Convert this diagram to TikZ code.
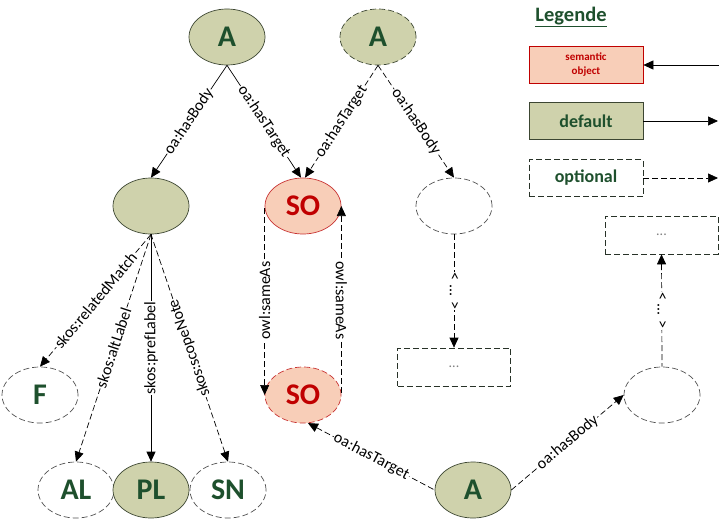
\documentclass[tikz,border=0pt]{standalone}
\usepackage{fontspec}
\setmainfont{Carlito}
\usetikzlibrary{arrows.meta,shapes.geometric}
\definecolor{gfill}{RGB}{207,210,172}
\definecolor{gtext}{RGB}{30,80,45}
\definecolor{gline}{RGB}{60,70,50}
\definecolor{sofill}{RGB}{248,206,184}
\definecolor{soline}{RGB}{200,50,50}
\definecolor{sotext}{RGB}{192,0,0}
\definecolor{optline}{RGB}{80,80,80}
\definecolor{boxline}{RGB}{40,50,40}
\begin{document}
\begin{tikzpicture}[x=1pt,y=-1pt,
 ell/.style={ellipse, minimum width=76pt, minimum height=56pt, inner sep=0pt, line width=0.7pt,
   font=\fontsize{30}{30}\selectfont\bfseries, text=gtext},
 deff/.style={ell, draw=gline, fill=gfill},
 opt/.style={ell, draw=optline, dash pattern=on 6pt off 3pt},
 so/.style={ell, draw=soline, fill=sofill, text=sotext},
 sodash/.style={so, dash pattern=on 6pt off 3pt},
 boxopt/.style={rectangle, draw=boxline, dash pattern=on 6pt off 3pt, minimum width=113pt, minimum height=38pt, inner sep=0pt, line width=0.7pt},
 arr/.style={-{Triangle[length=10pt,width=9pt]}, black, line width=0.7pt},
 rarr/.style={{Triangle[length=10pt,width=9pt]}-, black, line width=0.7pt},
 dsh/.style={dash pattern=on 6pt off 3pt},
 lbl/.style={fill=white, inner sep=1pt, font=\fontsize{16}{16}\selectfont, sloped},
 lgbox/.style={rectangle, minimum width=114pt, minimum height=37pt, inner sep=0pt, line width=0.7pt}
]
\useasboundingbox (0,0) rectangle (719,519);

% nodes
\node[deff] (A1) at (227,37) {A};
\node[deff, dash pattern=on 6pt off 3pt] (A2) at (378,37) {A};
\node[deff] (B) at (151,206) {};
\node[so] (SO1) at (303,206) {SO};
\node[opt] (E1) at (454,206) {};
\node[boxopt] (D1) at (454,367) {\fontsize{14}{14}\selectfont\color{gray}...};
\node[boxopt] (D2) at (661.5,235) {\fontsize{14}{14}\selectfont\color{gray}...};
\node[opt] (F) at (40,395) {F};
\node[sodash] (SO2) at (303,395) {SO};
\node[opt] (E2) at (662,395) {};
\node[opt] (AL) at (76,490) {AL};
\node[deff] (PL) at (151,490) {PL};
\node[opt] (SN) at (228,490) {SN};
\node[deff] (A3) at (473,490) {A};

% legend
\node[font=\fontsize{20.5}{20.5}\selectfont\bfseries, text=gtext] (leg) at (571,17) {\underline{Legende}};
\node[lgbox, draw=sotext, fill=sofill, text=sotext, align=center,
  font=\fontsize{11}{14}\selectfont\bfseries] (L1) at (586,65) {semantic\\object};
\node[lgbox, draw=gline, fill=gfill, text=gtext, font=\fontsize{18}{18}\selectfont\bfseries] (L2) at (586,121) {default};
\node[lgbox, draw=boxline, dash pattern=on 6pt off 3pt, text=gtext, font=\fontsize{18}{18}\selectfont\bfseries] (L3) at (586,178) {optional};
\coordinate (L1r) at (719,65);
\coordinate (L2r) at (718,121);
\coordinate (L3r) at (718,178);
\draw[arr] (L1r) -- (L1);
\draw[arr] (L2) -- (L2r);
\draw[arr, dsh] (L3) -- (L3r);

% edges
\draw[arr] (A1.south) -- node[lbl]{oa:hasBody} (B.north);
\draw[arr] (A1.south) -- node[lbl]{oa:hasTarget} ([xshift=-2pt]SO1.north);
\draw[arr, dsh] (A2.south) -- node[lbl]{oa:hasTarget} ([xshift=2pt]SO1.north);
\draw[arr, dsh] (A2.south) -- node[lbl]{oa:hasBody} (E1.north);

\draw[arr, dsh] (B.south) -- node[lbl]{skos:relatedMatch} (F.north);
\draw[arr, dsh] (B.south) -- node[lbl]{skos:altLabel} (AL.north);
\draw[rarr] (PL.north) -- node[lbl, allow upside down]{skos:prefLabel} (B.south);
\draw[rarr, dsh] (SN.north) -- node[lbl, allow upside down]{skos:scopeNote} (B.south);

\draw[rarr, dsh] (SO2.west) -- node[lbl, allow upside down]{owl:sameAs} (SO1.west);
\draw[rarr, dsh] (SO1.east) -- node[lbl, allow upside down]{owl:sameAs} (SO2.east);

\draw[arr, dsh] (E1.south) -- node[lbl, allow upside down]{< ... >} (D1.north);
\draw[rarr, dsh] (D2.south) -- node[lbl, allow upside down]{< ... >} (E2.north);

\draw[rarr, dsh] (SO2.-80) -- node[lbl]{oa:hasTarget} (A3.west);
\draw[arr, dsh] (A3.east) -- node[lbl]{oa:hasBody} (E2.west);
\end{tikzpicture}
\end{document}
